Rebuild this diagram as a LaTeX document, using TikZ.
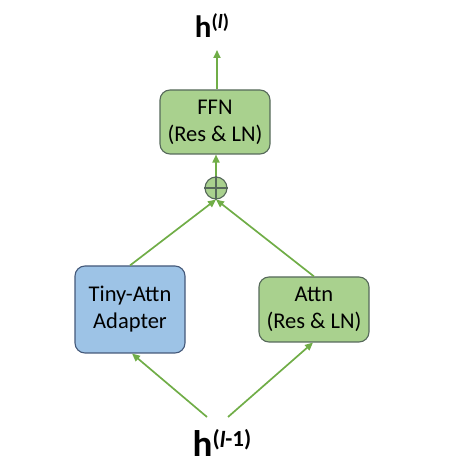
\documentclass[tikz,border=0pt]{standalone}
\usepackage{fontspec}
\setmainfont{Carlito}
\usetikzlibrary{arrows.meta,calc}
\definecolor{gfill}{HTML}{A9D18E}
\definecolor{gline}{HTML}{56695A}
\definecolor{bfill}{HTML}{9DC3E6}
\definecolor{bline}{HTML}{44597A}
\definecolor{arr}{HTML}{70AD47}
\tikzset{
  box/.style={draw, line width=1.1pt, rounded corners=10pt, minimum width=110pt, align=center, font=\fontsize{22.5}{27}\selectfont, inner sep=0pt},
  gbox/.style={box, fill=gfill, draw=gline},
  bbox/.style={box, fill=bfill, draw=bline},
  conn/.style={draw=arr, line width=1.7pt, -{Triangle[length=8pt,width=7pt]}},
  lbl/.style={anchor=base, inner sep=0pt}
}
\begin{document}
\begin{tikzpicture}[x=1pt,y=1pt]
\useasboundingbox (0,0) rectangle (474,474);
\node[gbox, minimum height=64pt] (ffn) at (215,352) {FFN\\(Res \& LN)};
\node[bbox, minimum height=87pt] (tiny) at (130,164.5) {Tiny-Attn\\Adapter};
\node[gbox, minimum height=65pt] (attn) at (314,164.5) {Attn\\(Res \& LN)};
\node[circle, draw=gline, fill=gfill, line width=1.1pt, minimum size=22pt, inner sep=0pt] (op) at (216,286) {};
\draw[gline, line width=1.1pt] (op.north) -- (op.south) (op.west) -- (op.east);
\node[lbl] (hl) at (212,436) {\fontsize{31}{31}\selectfont\bfseries h\raisebox{9pt}{\fontsize{20}{20}\selectfont(\textit{l})}};
\node[lbl] (hl1) at (222,17) {\fontsize{37}{37}\selectfont\bfseries h\raisebox{10pt}{\fontsize{23}{23}\selectfont(\textit{l}-1)}};
\coordinate (top) at (217,424);
\coordinate (a1) at (207,57);
\coordinate (a2) at (228,57);
\draw[conn] (ffn.north -| top) -- (top);
\draw[conn] (op.north) -- (op.north |- ffn.south);
\draw[conn] (tiny.north) -- (op.south);
\draw[conn] (attn.north) -- (op.south);
\draw[conn] (a1) -- ($(tiny.south)+(2,0)$);
\draw[conn] (a2) -- ($(attn.south)+(-1,0)$);
\end{tikzpicture}
\end{document}
